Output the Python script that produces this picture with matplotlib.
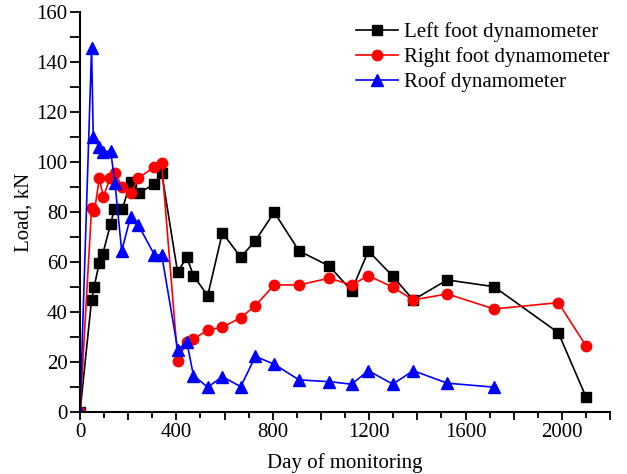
import matplotlib
matplotlib.use("Agg")
import matplotlib.pyplot as plt
from matplotlib.ticker import MultipleLocator, FuncFormatter

# days of monitoring and loads (kN)
left_days = [0, 48, 58, 80, 94, 127, 143, 176, 210, 244, 309, 339, 405, 443, 471, 530,
             591, 667, 728, 806, 909, 1034, 1127, 1197, 1298, 1383, 1524, 1718, 1985, 2100]
left_load = [0, 44.8, 49.9, 59.5, 63.0, 75.2, 81.2, 81.2, 92.1, 87.5, 91.2, 95.7, 55.9, 61.9,
             54.5, 46.5, 71.7, 61.9, 68.5, 79.9, 64.4, 58.4, 48.5, 64.4, 54.3, 44.8, 52.8,
             50.1, 31.7, 6.0]

right_days = [0, 48, 60, 80, 97, 125, 145, 176, 212, 242, 309, 339, 406, 443, 471, 530,
              591, 667, 728, 806, 909, 1034, 1127, 1197, 1298, 1383, 1524, 1718, 1985, 2100]
right_load = [0, 81.5, 80.3, 93.5, 86.1, 93.5, 95.7, 89.9, 87.5, 93.5, 98.1, 99.7, 20.5,
              28.1, 29.1, 32.8, 33.9, 37.7, 42.5, 50.8, 50.8, 53.5, 50.8, 54.5, 49.9, 44.8,
              47.2, 41.2, 43.7, 26.5]

roof_days = [0, 48, 55, 80, 97, 127, 145, 173, 210, 242, 309, 339, 406, 443, 471, 530,
             591, 667, 728, 806, 909, 1034, 1127, 1197, 1298, 1383, 1524, 1718]
roof_load = [0, 145.5, 110.0, 106.0, 104.0, 104.4, 91.6, 64.4, 78.1, 74.8, 62.8, 62.8, 24.8,
             28.1, 14.5, 9.9, 14.1, 10.1, 22.2, 19.1, 12.8, 12.1, 11.1, 16.5, 11.1, 16.5,
             11.5, 9.9]

plt.rcParams['font.family'] = ['Liberation Serif', 'DejaVu Serif']

fig = plt.figure(figsize=(6.27, 4.74), dpi=100)
ax = fig.add_axes([0.1276, 0.131, 0.8454, 0.8437])

ax.plot(left_days, left_load, color='black', lw=1.2, marker='s', ms=6.5,
        label='Left foot dynamometer')
ax.plot(right_days, right_load, color='#ff0000', lw=1.2, marker='o', ms=7.5,
        label='Right foot dynamometer')
ax.plot(roof_days, roof_load, color='#0000ff', lw=1.2, marker='^', ms=8,
        label='Roof dynamometer')

ax.set_xlim(0, 2200)
ax.set_ylim(0, 160)
ax.spines['top'].set_visible(False)
ax.spines['right'].set_visible(False)
ax.spines['left'].set_linewidth(1.5)
ax.spines['bottom'].set_linewidth(1.5)

ax.xaxis.set_major_locator(MultipleLocator(200))
ax.xaxis.set_minor_locator(MultipleLocator(100))
ax.xaxis.set_major_formatter(FuncFormatter(lambda v, p: '%d' % v if v % 400 == 0 else ''))
ax.yaxis.set_major_locator(MultipleLocator(20))
ax.yaxis.set_minor_locator(MultipleLocator(10))
ax.tick_params(which='major', length=6, width=1.3, labelsize=15, pad=2)
ax.tick_params(which='minor', length=4, width=1.3)
ax.tick_params(axis='y', which='both', length=7)

ax.set_xlabel('Day of monitoring', fontsize=15, labelpad=8)
ax.set_ylabel('Load, kN', fontsize=15, labelpad=2)

ax.legend(loc='upper right', bbox_to_anchor=(1.015, 0.995), frameon=False, fontsize=15,
          handlelength=2.0, handletextpad=0.3, labelspacing=0.25, borderaxespad=0)

fig.savefig('out.png', dpi=100)
